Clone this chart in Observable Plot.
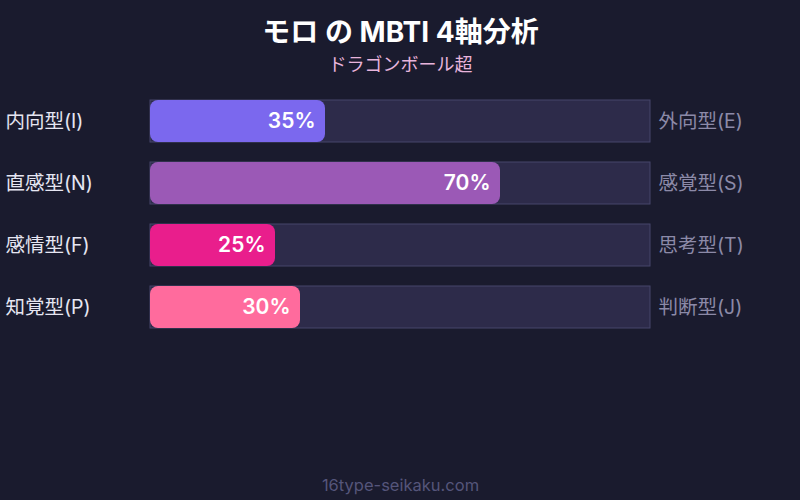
<!DOCTYPE html>
<html>
<head>
<meta charset="utf-8">
<script src="https://cdn.jsdelivr.net/npm/d3@7"></script>
<script src="https://cdn.jsdelivr.net/npm/@observablehq/plot@0.6"></script>
<style>
  html, body { margin: 0; padding: 0; background: #1a1b2e; }
  #chart { width: 800px; height: 500px; }
</style>
</head>
<body>
<div id="chart"></div>
<script>
const title = "モロ の MBTI 4軸分析";
const subtitle = "ドラゴンボール超";
const footer = "16type-seikaku.com";
const leftLabels = ["内向型(I)", "直感型(N)", "感情型(F)", "知覚型(P)"];
const rightLabels = ["外向型(E)", "感覚型(S)", "思考型(T)", "判断型(J)"];
const values = [35, 70, 25, 30];
const colors = ["#7b68ee", "#9b59b6", "#e91e8c", "#ff6b9d"];

const rows = leftLabels.map((l, i) => ({left: l, right: rightLabels[i], value: values[i], color: colors[i]}));
const font = "Inter, 'Noto Sans CJK JP', sans-serif";

const chart = Plot.plot({
  width: 800,
  height: 500,
  marginLeft: 150,
  marginRight: 150,
  marginTop: 100,
  marginBottom: 172,
  style: {background: "#1a1b2e", fontFamily: font},
  x: {domain: [0, 100], axis: null},
  y: {domain: leftLabels, axis: null, paddingInner: 20 / 62, paddingOuter: 0},
  marks: [
    Plot.barX(rows, {y: "left", x1: 0, x2: 100, fill: "#2d2b4a", stroke: "#46466b", strokeWidth: 1}),
    Plot.barX(rows, {y: "left", x1: 0, x2: "value", fill: "color", rx: 8}),
    Plot.text(rows, {y: "left", x: "value", text: d => d.value + "%", textAnchor: "end", dx: -10, fill: "white", fontSize: 21, fontWeight: 600}),
    Plot.text(rows, {y: "left", text: "left", frameAnchor: "left", dx: -145, textAnchor: "start", fill: "#e6e6f2", fontSize: 19.5}),
    Plot.text(rows, {y: "left", text: "right", frameAnchor: "right", dx: 8, textAnchor: "start", fill: "#8c8aa8", fontSize: 19.5}),
    Plot.text([title], {frameAnchor: "top", lineAnchor: "middle", dy: -67, fill: "white", fontSize: 28, fontWeight: "bold"}),
    Plot.text([subtitle], {frameAnchor: "top", lineAnchor: "middle", dy: -35, fill: "#e8b4dc", fontSize: 18}),
    Plot.text([footer], {frameAnchor: "bottom", lineAnchor: "middle", dy: 157, fill: "#55557a", fontSize: 16.5})
  ]
});
document.getElementById("chart").appendChild(chart);
</script>
</body>
</html>
